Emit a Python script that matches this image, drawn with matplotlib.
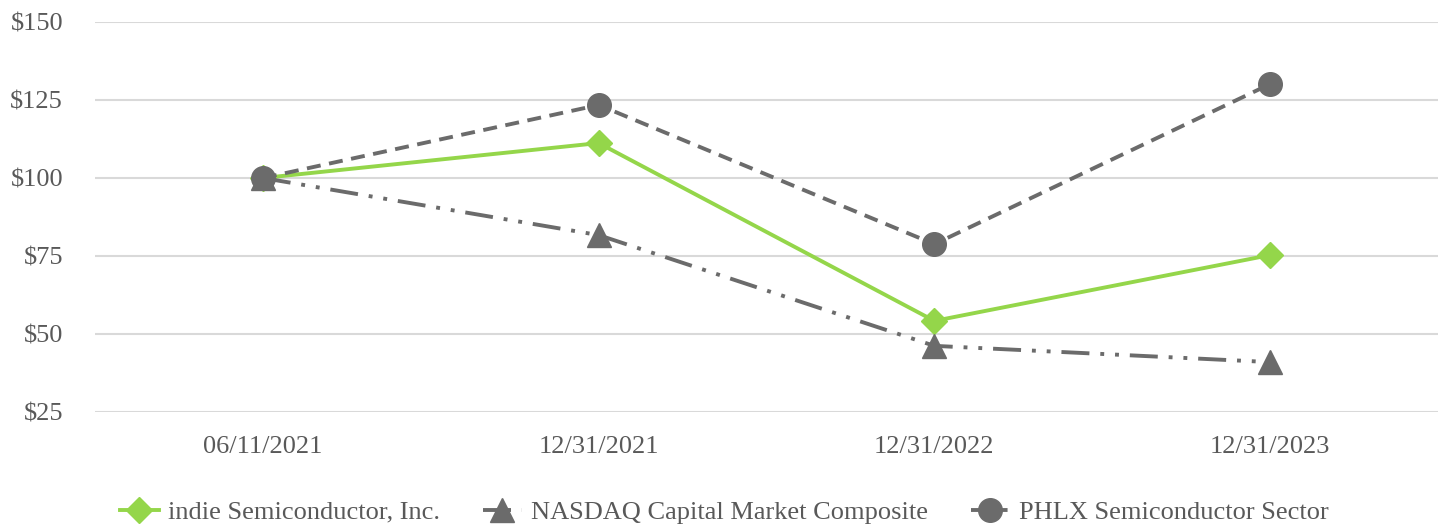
import matplotlib
matplotlib.use("Agg")
import matplotlib.pyplot as plt

dates = ["06/11/2021", "12/31/2021", "12/31/2022", "12/31/2023"]
indie = [100, 111.2, 54.2, 75.3]
nasdaq = [100, 81.7, 46.2, 41.0]
phlx = [100, 123.4, 78.8, 130.1]
yticks = [25, 50, 75, 100, 125, 150]

plt.rcParams['font.family'] = ['Liberation Serif', 'DejaVu Serif']

fig = plt.figure(figsize=(14.43, 5.27), dpi=100)
ax = fig.add_axes([95/1443, 1-412/527, (1438-95)/1443, (412-22)/527])

green = '#94D64A'
gray = '#6B6B6B'
x = list(range(len(dates)))
lw = 2.8

ax.plot(x, indie, color=green, lw=lw, marker='D', ms=13.5,
        label='indie Semiconductor, Inc.', zorder=3)
ax.plot(x, nasdaq, color=gray, lw=lw, dashes=(7.2, 2.8, 1, 2.8, 1, 2.8), marker='^', ms=17,
        label='NASDAQ Capital Market Composite', zorder=4)
ax.plot(x, phlx, color=gray, lw=lw, dashes=(3.6, 2.2), marker='o', ms=17,
        label='PHLX Semiconductor Sector', zorder=5)

ax.set_xlim(-0.5, 3.5)
ax.set_ylim(25, 150)
ax.set_yticks(yticks)
ax.set_yticklabels([f"${v}" for v in yticks])
ax.set_xticks(x)
ax.set_xticklabels(dates)
ax.tick_params(axis='both', length=0, labelsize=19, labelcolor='#595959')
ax.tick_params(axis='y', pad=23)
ax.tick_params(axis='x', pad=17)
ax.grid(axis='y', color='#D9D9D9', lw=1.5)
ax.set_axisbelow(True)
for s in ax.spines.values():
    s.set_visible(False)

h, l = ax.get_legend_handles_labels()
leg = fig.legend(h, l, loc='center',
                 bbox_to_anchor=(0.502, 1-512/527), ncol=3, frameon=False,
                 fontsize=19, handlelength=1.5, columnspacing=1.6, handletextpad=0.35,
                 labelcolor='#595959')

fig.savefig('out.png', dpi=100)
